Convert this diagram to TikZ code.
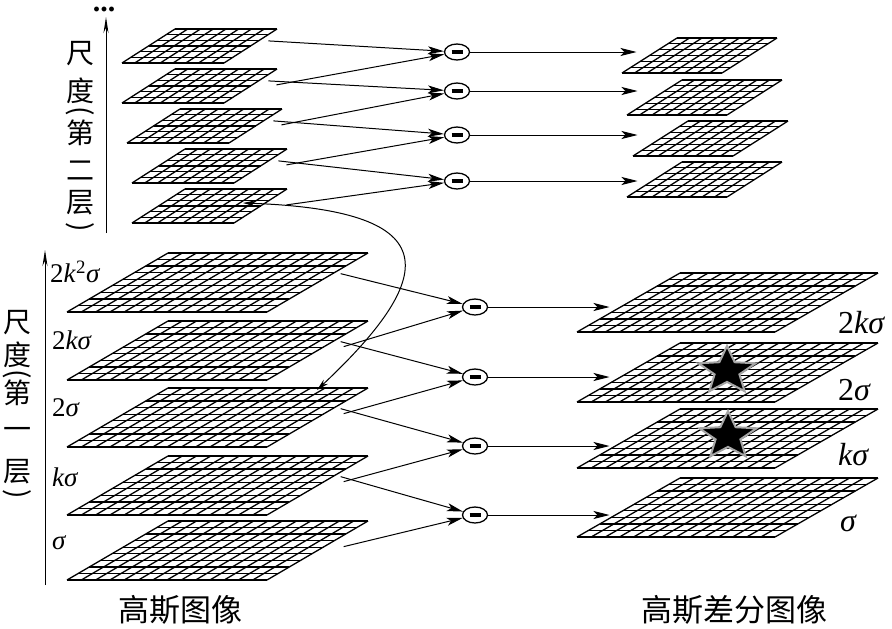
\documentclass[tikz,border=0pt]{standalone}
\usepackage{fontspec}
\setmainfont{Liberation Serif}
\newfontfamily\cjk{Noto Sans CJK SC}
\usepackage{tikz}
\usetikzlibrary{calc,arrows.meta,shapes.geometric}

% one grid layer: name, x, y (bottom left), width, height, skew, cols, rows, gap
\newcommand{\layer}[9]{%
  \foreach \i in {0,...,#7}
    \draw[gridline] ($(#2,#3)+(\i*#4/#7,0)$) -- ++(#6,-#5);
  \foreach \j in {0,...,#8}
    \draw[gridline] ($(#2,#3)+(\j*#6/#8,-\j*#5/#8)$) -- ++(#4,0);
  \coordinate (#1-e) at ($(#2,#3)+(#4+0.65*#6+#9,-0.65*#5)$);
  \coordinate (#1-w) at ($(#2,#3)+(0.5*#6-#9,-0.5*#5)$);
}

\begin{document}
\begin{tikzpicture}[x=1pt, y=-1pt, >=Stealth,
  gridline/.style={line width=1.3pt},
  arr/.style={-{Stealth[length=16pt,width=8pt,inset=4pt]}, line width=1pt},
  minus/.style={ellipse, draw, line width=1.3pt, minimum width=25pt, minimum height=16pt, inner sep=0pt},
  sig/.style={font=\fontsize{27}{30}\selectfont, inner sep=0pt},
  sigr/.style={font=\fontsize{32}{34}\selectfont, inner sep=0pt, anchor=west},
  vlab/.style={font=\fontsize{28}{30}\selectfont\cjk, inner sep=0pt},
  captext/.style={font=\fontsize{31}{33}\selectfont\cjk, inner sep=0pt}]
  \useasboundingbox (0,0) rectangle (892,629);

  % second octave, gaussian and DoG layers
  \layer{ga1}{122}{63}{102}{34}{53}{8}{6}{10}
  \layer{ga2}{122}{103}{102}{34}{53}{8}{6}{10}
  \layer{ga3}{127}{143}{102}{34}{53}{8}{6}{10}
  \layer{ga4}{132}{183}{102}{34}{53}{8}{6}{10}
  \layer{ga5}{132}{223}{102}{34}{53}{8}{6}{10}
  \layer{da1}{622}{73}{100}{35}{55}{8}{6}{13}
  \layer{da2}{627}{115}{100}{35}{55}{8}{6}{17}
  \layer{da3}{633}{156}{100}{35}{55}{8}{6}{23}
  \layer{da4}{627}{197}{100}{35}{55}{8}{6}{17}

  % first octave
  \layer{gb1}{67}{312}{200}{59}{101}{14}{9}{8}
  \layer{gb2}{67}{380}{200}{59}{101}{14}{9}{8}
  \layer{gb3}{67}{447}{200}{59}{101}{14}{9}{8}
  \layer{gb4}{67}{515}{200}{59}{101}{14}{9}{8}
  \layer{gb5}{67}{580}{200}{59}{101}{14}{9}{8}
  \layer{db1}{577}{332}{198}{59}{103}{14}{9}{19}
  \layer{db2}{577}{402}{198}{59}{103}{14}{9}{19}
  \layer{db3}{577}{468}{198}{59}{103}{14}{9}{19}
  \layer{db4}{577}{537}{198}{59}{103}{14}{9}{19}

  % subtraction nodes
  \foreach \yy [count=\k] in {52,91,135,181}
    \node[minus] (m\k) at (457,\yy) {\rule{11pt}{3.5pt}};
  \foreach \yy [count=\k] in {307,377,446,515}
    \node[minus] (n\k) at (475,\yy) {\rule{11pt}{3.5pt}};

  % gaussian -> minus
  \draw[arr] (ga1-e) -- (m1);
  \draw[arr] ([shift={(8,4)}]ga2-e) -- (m1);
  \draw[arr] (ga2-e) -- (m2);
  \draw[arr] ([shift={(8,4)}]ga3-e) -- (m2);
  \draw[arr] (ga3-e) -- (m3);
  \draw[arr] ([shift={(8,4)}]ga4-e) -- (m3);
  \draw[arr] (ga4-e) -- (m4);
  \draw[arr] ([shift={(8,4)}]ga5-e) -- (m4);

  \draw[arr] (gb1-e) -- (n1);
  \draw[arr] ([shift={(3,5)}]gb2-e) -- (n1);
  \draw[arr] (gb2-e) -- (n2);
  \draw[arr] ([shift={(3,5)}]gb3-e) -- (n2);
  \draw[arr] (gb3-e) -- (n3);
  \draw[arr] ([shift={(3,5)}]gb4-e) -- (n3);
  \draw[arr] (gb4-e) -- (n4);
  \draw[arr] ([shift={(3,5)}]gb5-e) -- (n4);

  % minus -> DoG
  \foreach \k in {1,...,4} {
    \draw[arr] (m\k) -- (m\k -| da\k-w);
    \draw[arr] (n\k) -- (n\k -| db\k-w);
  }

  % link between octaves
  \coordinate (hi) at (243,203);
  \coordinate (lo) at (317,390);
  \draw[{Stealth[length=12pt,width=6pt]}-{Stealth[length=12pt,width=6pt]}, line width=1pt]
    (hi) .. controls (440,210) and (445,270) .. (lo);

  % extrema
  \node[star, star points=5, star point ratio=2.3, minimum size=50pt, inner sep=0pt,
    fill=black, draw=gray!70, line width=2pt, transform shape, xscale=1.2] (star1) at (727,371) {};
  \node[star, star points=5, star point ratio=2.3, minimum size=50pt, inner sep=0pt,
    fill=black, draw=gray!70, line width=2pt, transform shape, xscale=1.2] (star2) at (728,436) {};

  % scale axes
  \coordinate (axa0) at (106,233);
  \coordinate (axa1) at (106,17);
  \coordinate (axb0) at (45,585);
  \coordinate (axb1) at (45,250);
  \draw[-{Stealth[length=16pt,width=5pt]}, line width=1pt] (axa0) -- (axa1);
  \draw[-{Stealth[length=16pt,width=5pt]}, line width=1pt] (axb0) -- (axb1);
  \node[anchor=base, inner sep=0pt, text height=5pt, text depth=0pt,
    font=\fontsize{30}{30}\selectfont\bfseries] (more) at (104,11) {...};

  \foreach \ch/\yy/\rr [count=\k] in {尺/54/0, 度/91/0, {(}/111/-90, 第/133/0, 二/171/0, 层/203/0, {)}/227/-90}
    \node[vlab, rotate=\rr] (ua\k) at (80,\yy) {\ch};
  \foreach \ch/\yy/\rr [count=\k] in {尺/323/0, 度/355/0, {(}/374/-90, 第/393/0, 一/433/0, 层/472/0, {)}/494/-90}
    \node[vlab, rotate=\rr] (ub\k) at (17,\yy) {\ch};

  % sigma labels
  \node[sig, anchor=west] (s1) at (50,272) {2\textit{k}\textsuperscript{2}\textit{σ}};
  \node[sig, anchor=west] (s2) at (52,340) {2\textit{kσ}};
  \node[sig, anchor=west] (s3) at (52,408) {2\textit{σ}};
  \node[sig, anchor=west] (s4) at (52,477) {\textit{kσ}};
  \node[sig, anchor=west] (s5) at (52,543) {\textit{σ}};
  \node[sigr] (r1) at (838,323) {2\textit{kσ}};
  \node[sigr] (r2) at (838,390) {2\textit{σ}};
  \node[sigr] (r3) at (838,455) {\textit{kσ}};
  \node[sigr] (r4) at (840,523) {\textit{σ}};

  \node[captext] (capl) at (180,610) {高斯图像};
  \node[captext] (capr) at (734,610) {高斯差分图像};
\end{tikzpicture}
\end{document}
